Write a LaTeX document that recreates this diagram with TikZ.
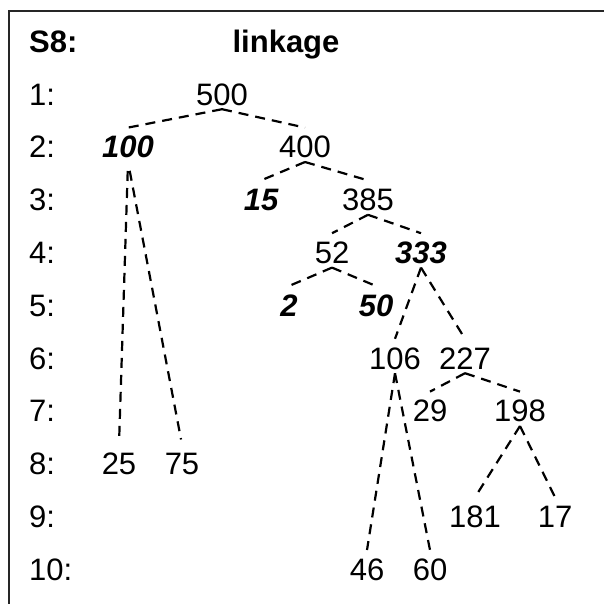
\documentclass[tikz,border=0pt]{standalone}
\usepackage{fontspec}
\setmainfont{Liberation Sans}
\begin{document}
\begin{tikzpicture}[x=1pt,y=-1pt,
  every node/.style={font=\fontsize{31}{37}\selectfont},
  lab/.style={anchor=base west,inner sep=0pt},
  num/.style={anchor=base,inner xsep=0pt,inner ysep=4pt,text height=26pt,text depth=0pt},
  bnum/.style={num,font=\fontsize{31}{37}\selectfont\bfseries\itshape},
  link/.style={draw=black,line width=2.2pt,dash pattern=on 10pt off 7pt},
  frame/.style={draw=black!85,line width=2pt}]
\useasboundingbox (0,0) rectangle (604,603);
\draw[frame] (9,604) -- (9,11) -- (605,11);
% header
\node[lab,font=\fontsize{31}{37}\selectfont\bfseries] (hS) at (29,52) {S8:};
\node[anchor=base,inner sep=0pt,font=\fontsize{31}{37}\selectfont\bfseries] (hL) at (286,52) {linkage};
% row labels
\foreach \i in {1,...,10}{
  \node[lab] (r\i) at (29,{105+52.8*(\i-1)}) {\i:};
}
% nodes
\node[num]  (n500) at (222,105) {500};
\node[bnum] (n100) at (128,157.8) {100};
\node[num]  (n400) at (305,157.8) {400};
\node[bnum] (n15)  at (261,210.6) {15};
\node[num]  (n385) at (368,210.6) {385};
\node[num]  (n52)  at (332,263.4) {52};
\node[bnum] (n333) at (421,263.4) {333};
\node[bnum] (n2)   at (289,316.2) {2};
\node[bnum] (n50)  at (376,316.2) {50};
\node[num]  (n106) at (395,369) {106};
\node[num]  (n227) at (465,369) {227};
\node[num]  (n29)  at (430,421.8) {29};
\node[num]  (n198) at (520,421.8) {198};
\node[num]  (n25)  at (119,474.6) {25};
\node[num]  (n75)  at (182,474.6) {75};
\node[num]  (n181) at (475,527.4) {181};
\node[num]  (n17)  at (555,527.4) {17};
\node[num]  (n46)  at (367,580.2) {46};
\node[num]  (n60)  at (430,580.2) {60};
% connectors
\draw[link] (n500.south) -- (n100.north);
\draw[link] (n500.south) -- (n400.north);
\draw[link] (n400.south) -- (n15.north);
\draw[link] (n400.south) -- (n385.north);
\draw[link] (n385.south) -- (n52.north);
\draw[link] (n385.south) -- (n333.north);
\draw[link] (n52.south) -- (n2.north);
\draw[link] (n52.south) -- (n50.north);
\draw[link] (n333.south) -- (n106.north);
\draw[link] (n333.south) -- (n227.north);
\draw[link] (n227.south) -- (n29.north);
\draw[link] (n227.south) -- (n198.north);
\draw[link] (n198.south) -- (n181.north);
\draw[link] (n198.south) -- (n17.north);
\draw[link] (n106.south) -- (n46.north);
\draw[link] (n106.south) -- (n60.north);
\draw[link,shorten <=9pt,shorten >=5pt] (n100.south) -- (n25.north);
\draw[link,shorten <=9pt,shorten >=5pt] (n100.south) -- (n75.north);
\end{tikzpicture}
\end{document}
